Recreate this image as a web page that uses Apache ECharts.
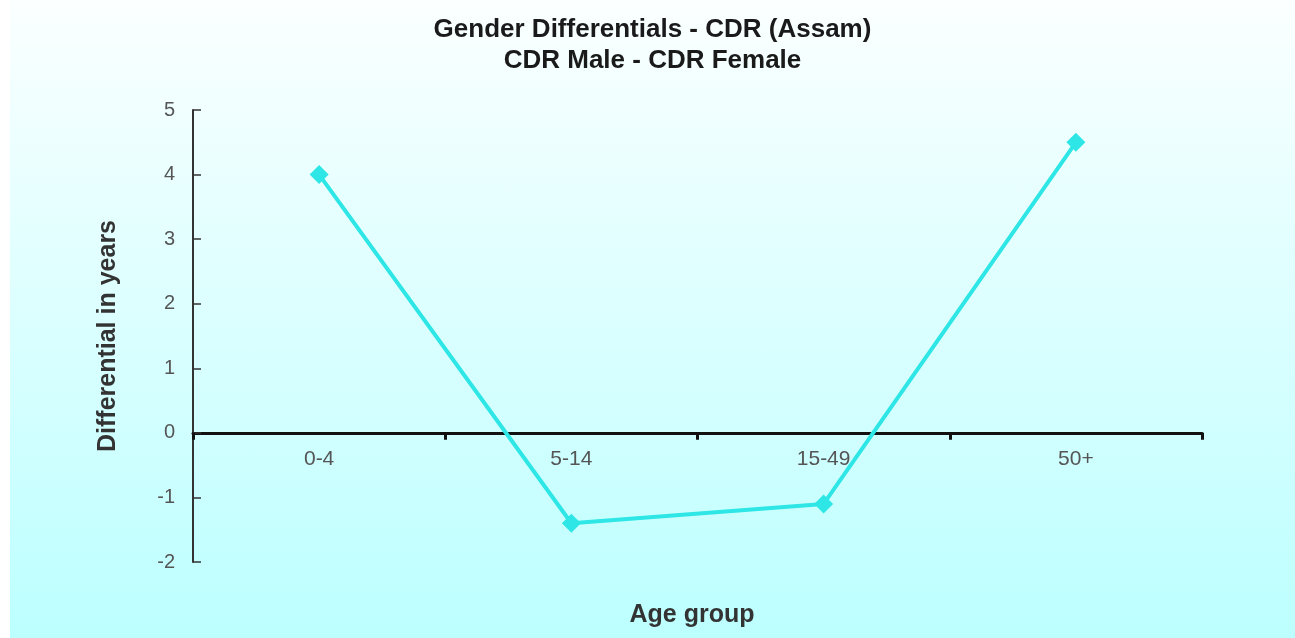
<!DOCTYPE html>
<html>
<head>
<meta charset="utf-8">
<title>Gender Differentials - CDR (Assam)</title>
<script src="https://cdn.jsdelivr.net/npm/echarts@6/dist/echarts.min.js"></script>
<style>
	html, body { margin: 0; padding: 0; background: #ffffff; }
	#chart {
		position: absolute;
		left: 10px;
		top: 0;
		width: 1285px;
		height: 638px;
		background: linear-gradient(#fbffff, #bcffff);
	}
</style>
</head>
<body>
<div id="chart"></div>
<script>
var ageGroups = ["0-4", "5-14", "15-49", "50+"];
var differential = [4.0, -1.4, -1.1, 4.5];
var yMin = -2, yMax = 5, yStep = 1;

var myChart = echarts.init(document.getElementById("chart"));
var font = "Liberation Sans, Arial, sans-serif";

var option = {
	animation: false,
	title: [{
		text: "Gender Differentials - CDR (Assam)\nCDR Male - CDR Female",
		left: "center",
		top: 9,
		textStyle: {
			fontFamily: font,
			fontSize: 26,
			fontWeight: "bold",
			color: "#1a1a1a",
			lineHeight: 31
		}
	}, {
		// 横轴名称
		text: "Age group",
		left: 677,
		top: 598,
		textAlign: "center",
		textStyle: {
			fontFamily: font,
			fontSize: 25,
			fontWeight: "bold",
			color: "#333"
		}
	}],
	grid: {
		left: 183,
		right: 93,
		top: 110,
		bottom: 76,
		containLabel: false,
		outerBoundsMode: "none"
	},
	xAxis: {
		type: "category",
		data: ageGroups,
		boundaryGap: true,
		axisLine: { onZero: true, lineStyle: { color: "#111", width: 3 } },
		axisTick: { show: true, length: 7, lineStyle: { color: "#111", width: 3 } },
		axisLabel: {
			margin: -113, //标签放到零线下方
			fontFamily: font,
			fontSize: 21,
			color: "#555"
		},
		splitLine: { show: false }
	},
	yAxis: {
		type: "value",
		min: yMin,
		max: yMax,
		interval: yStep, //从-2开始计数
		name: "Differential in years",
		nameLocation: "middle",
		nameGap: 72,
		nameTextStyle: {
			fontFamily: font,
			fontSize: 25,
			fontWeight: "bold",
			color: "#333"
		},
		axisLine: { show: true, lineStyle: { color: "#333", width: 2 } },
		axisTick: { show: true, inside: true, length: 8, lineStyle: { color: "#333", width: 1.5 } },
		axisLabel: {
			margin: 18,
			fontFamily: font,
			fontSize: 20,
			color: "#555"
		},
		splitLine: { show: false }
	},
	series: [{
		type: "line",
		data: differential,
		symbol: "diamond",
		symbolSize: 19,
		lineStyle: { color: "#2ee6e6", width: 4 },
		itemStyle: { color: "#2ee6e6" }
	}]
};
myChart.setOption(option);
</script>
</body>
</html>
